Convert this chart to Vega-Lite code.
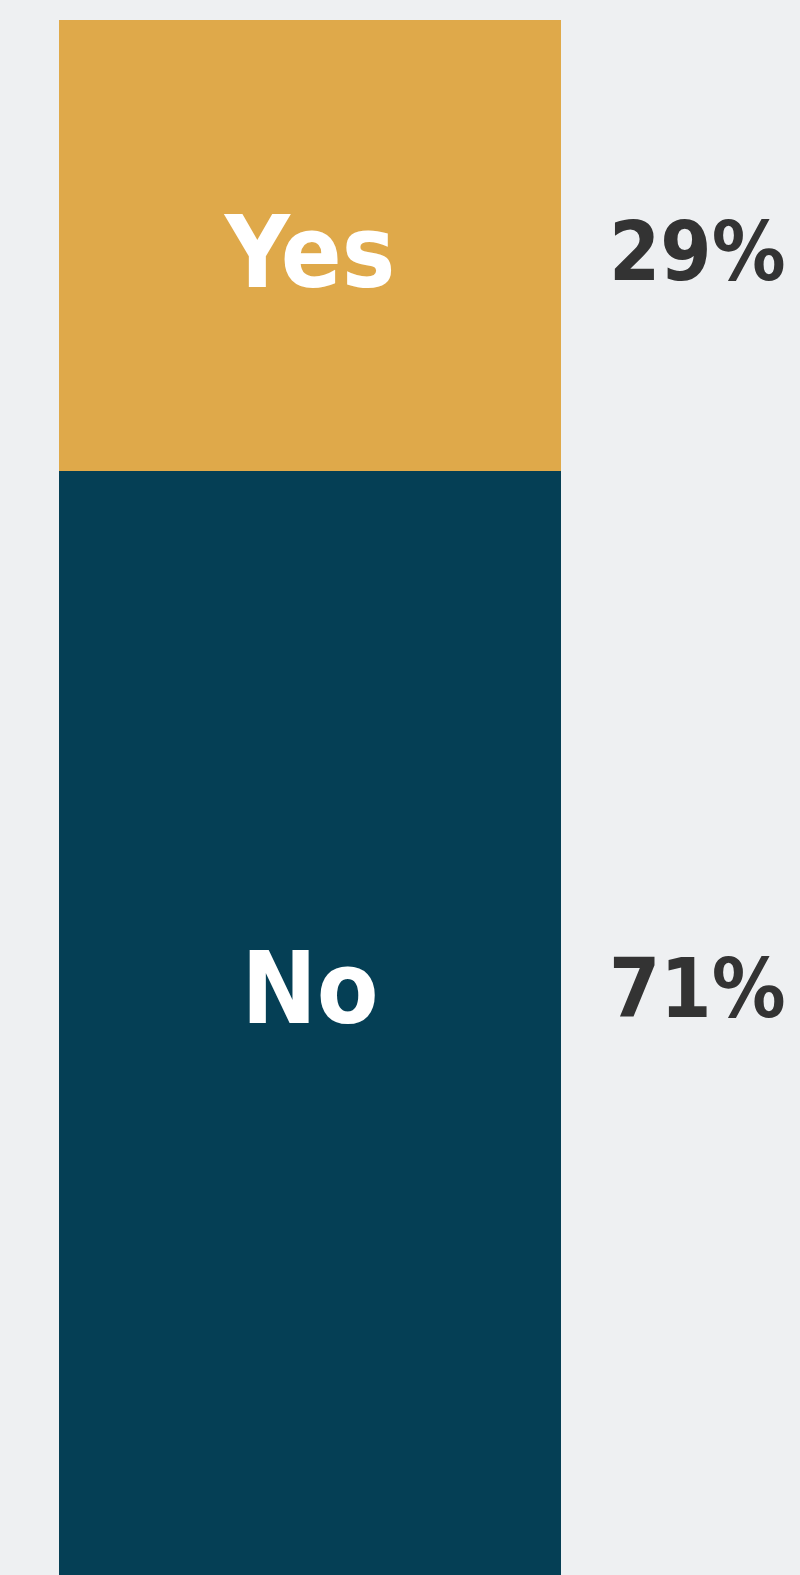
{
  "$schema": "https://vega.github.io/schema/vega-lite/v6.json",
  "width": 502,
  "height": 1555,
  "padding": {"left": 59, "top": 20, "right": 239, "bottom": 0},
  "autosize": {"type": "none"},
  "background": "#eef0f2",
  "config": {"view": {"stroke": null}},
  "data": {"values": [
    {"answer": "Yes", "share": 0.29, "label": "29%"},
    {"answer": "No", "share": 0.71, "label": "71%"}
  ]},
  "transform": [
    {"stack": "share", "groupby": [], "sort": [{"field": "answer", "order": "ascending"}], "as": ["v0", "v1"]},
    {"calculate": "(datum.v0 + datum.v1) / 2", "as": "mid"}
  ],
  "encoding": {
    "x": {"datum": "Q", "type": "nominal", "scale": {"paddingInner": 0, "paddingOuter": 0}, "axis": null}
  },
  "layer": [
    {
      "mark": {"type": "bar"},
      "encoding": {
        "y": {"field": "v0", "type": "quantitative", "scale": {"domain": [0, 1], "nice": false, "zero": false}, "axis": null},
        "y2": {"field": "v1"},
        "color": {"field": "answer", "type": "nominal", "scale": {"domain": ["Yes", "No"], "range": ["#dfa94a", "#053f55"]}, "legend": null}
      }
    },
    {
      "transform": [{"filter": "datum.answer === 'Yes'"}],
      "layer": [
        {"mark": {"type": "text", "font": "DejaVu Sans Condensed", "fontWeight": "bold", "fontSize": 100, "color": "white", "baseline": "alphabetic", "align": "center", "dy": 42},
         "encoding": {"y": {"field": "mid", "type": "quantitative"}, "text": {"field": "answer"}}},
        {"mark": {"type": "text", "font": "DejaVu Sans Condensed", "fontWeight": "bold", "fontSize": 82, "color": "#333333", "baseline": "alphabetic", "align": "left", "dx": 48, "dy": 35},
         "encoding": {"x": {"datum": "Q", "type": "nominal", "bandPosition": 1}, "y": {"field": "mid", "type": "quantitative"}, "text": {"field": "label"}}}
      ]
    },
    {
      "transform": [{"filter": "datum.answer === 'No'"}],
      "layer": [
        {"mark": {"type": "text", "font": "DejaVu Sans Condensed", "fontWeight": "bold", "fontSize": 100, "color": "white", "baseline": "alphabetic", "align": "center", "dy": 0},
         "encoding": {"y": {"field": "mid", "type": "quantitative"}, "text": {"field": "answer"}}},
        {"mark": {"type": "text", "font": "DejaVu Sans Condensed", "fontWeight": "bold", "fontSize": 82, "color": "#333333", "baseline": "alphabetic", "align": "left", "dx": 48, "dy": -6},
         "encoding": {"x": {"datum": "Q", "type": "nominal", "bandPosition": 1}, "y": {"field": "mid", "type": "quantitative"}, "text": {"field": "label"}}}
      ]
    }
  ]
}
